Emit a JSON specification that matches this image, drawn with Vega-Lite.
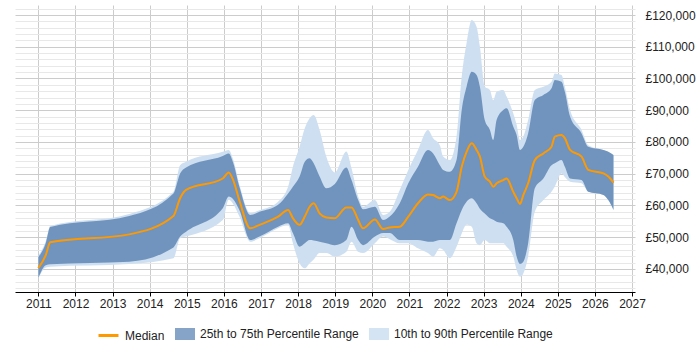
{
  "$schema": "https://vega.github.io/schema/vega-lite/v6.json",
  "autosize": {"type": "none"},
  "width": 620,
  "height": 287,
  "padding": {"left": 15, "top": 5, "right": 65, "bottom": 58},
  "background": "white",
  "data": {"values": [
    {"t": 2011.0, "p10": 37000, "p25": 37200, "med": 40300, "p75": 43800, "p90": 44200},
    {"t": 2011.2, "p10": 40500, "p25": 41200, "med": 44400, "p75": 48200, "p90": 48800},
    {"t": 2011.32, "p10": 40700, "p25": 41500, "med": 48400, "p75": 53200, "p90": 53500},
    {"t": 2013.45, "p10": 41600, "p25": 42300, "med": 50900, "p75": 56700, "p90": 57300},
    {"t": 2014.64, "p10": 43400, "p25": 46800, "med": 56700, "p75": 63800, "p90": 64300},
    {"t": 2014.82, "p10": 49700, "p25": 50200, "med": 62300, "p75": 70100, "p90": 72700},
    {"t": 2014.98, "p10": 50200, "p25": 51700, "med": 64900, "p75": 72000, "p90": 73800},
    {"t": 2015.97, "p10": 55400, "p25": 59100, "med": 68500, "p75": 75600, "p90": 76900},
    {"t": 2016.13, "p10": 61900, "p25": 62800, "med": 70400, "p75": 76400, "p90": 77500},
    {"t": 2016.25, "p10": 60500, "p25": 62000, "med": 68000, "p75": 73500, "p90": 74500},
    {"t": 2016.42, "p10": 56500, "p25": 58500, "med": 61500, "p75": 65800, "p90": 66500},
    {"t": 2016.71, "p10": 48600, "p25": 49100, "med": 52800, "p75": 57000, "p90": 57600},
    {"t": 2016.96, "p10": 49700, "p25": 50200, "med": 53900, "p75": 58000, "p90": 58500},
    {"t": 2017.46, "p10": 52800, "p25": 53300, "med": 56500, "p75": 60200, "p90": 61200},
    {"t": 2017.73, "p10": 53900, "p25": 54400, "med": 58600, "p75": 63800, "p90": 65900},
    {"t": 2017.86, "p10": 48100, "p25": 51300, "med": 56000, "p75": 65900, "p90": 72200},
    {"t": 2018.04, "p10": 41800, "p25": 47000, "med": 53900, "p75": 69100, "p90": 78500},
    {"t": 2018.18, "p10": 40200, "p25": 48100, "med": 56500, "p75": 73800, "p90": 84300},
    {"t": 2018.31, "p10": 41800, "p25": 49100, "med": 59600, "p75": 74900, "p90": 87500},
    {"t": 2018.42, "p10": 43000, "p25": 49000, "med": 60700, "p75": 73300, "p90": 88500},
    {"t": 2018.58, "p10": 45000, "p25": 48600, "med": 57500, "p75": 69100, "p90": 83800},
    {"t": 2018.76, "p10": 45000, "p25": 48100, "med": 56200, "p75": 65400, "p90": 75400},
    {"t": 2018.99, "p10": 43900, "p25": 47500, "med": 56000, "p75": 66800, "p90": 70400},
    {"t": 2019.3, "p10": 45400, "p25": 49100, "med": 59400, "p75": 72000, "p90": 77000},
    {"t": 2019.44, "p10": 48600, "p25": 53300, "med": 59400, "p75": 68000, "p90": 71700},
    {"t": 2019.62, "p10": 45400, "p25": 49100, "med": 55400, "p75": 61700, "p90": 62800},
    {"t": 2019.75, "p10": 45000, "p25": 47500, "med": 52800, "p75": 58800, "p90": 59600},
    {"t": 2020.07, "p10": 48100, "p25": 50200, "med": 55600, "p75": 59600, "p90": 61700},
    {"t": 2020.29, "p10": 50200, "p25": 51300, "med": 52600, "p75": 55400, "p90": 57000},
    {"t": 2020.47, "p10": 49400, "p25": 51300, "med": 53100, "p75": 56500, "p90": 58000},
    {"t": 2020.74, "p10": 48100, "p25": 49100, "med": 53300, "p75": 60700, "p90": 64900},
    {"t": 2020.97, "p10": 48100, "p25": 49100, "med": 56500, "p75": 67000, "p90": 71200},
    {"t": 2021.23, "p10": 46500, "p25": 49100, "med": 60700, "p75": 72200, "p90": 77500},
    {"t": 2021.5, "p10": 45000, "p25": 48600, "med": 63500, "p75": 77500, "p90": 83800},
    {"t": 2021.64, "p10": 43900, "p25": 48600, "med": 63300, "p75": 76400, "p90": 81200},
    {"t": 2021.82, "p10": 46500, "p25": 49100, "med": 62300, "p75": 72700, "p90": 79000},
    {"t": 2021.91, "p10": 46000, "p25": 49100, "med": 62800, "p75": 71200, "p90": 75400},
    {"t": 2022.09, "p10": 43400, "p25": 49100, "med": 61700, "p75": 70600, "p90": 74300},
    {"t": 2022.27, "p10": 47000, "p25": 54400, "med": 64300, "p75": 74300, "p90": 81700},
    {"t": 2022.41, "p10": 51200, "p25": 58600, "med": 72200, "p75": 90100, "p90": 100600},
    {"t": 2022.54, "p10": 53900, "p25": 61200, "med": 76900, "p75": 97400, "p90": 111100},
    {"t": 2022.68, "p10": 53300, "p25": 62300, "med": 79600, "p75": 102100, "p90": 118400},
    {"t": 2022.81, "p10": 48100, "p25": 60700, "med": 77500, "p75": 101100, "p90": 116300},
    {"t": 2022.9, "p10": 47500, "p25": 59000, "med": 75400, "p75": 97400, "p90": 110000},
    {"t": 2023.03, "p10": 49100, "p25": 57500, "med": 69100, "p75": 86900, "p90": 97400},
    {"t": 2023.17, "p10": 48100, "p25": 56000, "med": 67500, "p75": 83800, "p90": 96400},
    {"t": 2023.26, "p10": 48100, "p25": 55500, "med": 65900, "p75": 80600, "p90": 93200},
    {"t": 2023.35, "p10": 48100, "p25": 54900, "med": 67000, "p75": 86900, "p90": 95800},
    {"t": 2023.53, "p10": 48100, "p25": 54400, "med": 68000, "p75": 90100, "p90": 96400},
    {"t": 2023.62, "p10": 47000, "p25": 53300, "med": 68500, "p75": 90600, "p90": 94300},
    {"t": 2023.8, "p10": 43900, "p25": 49100, "med": 64300, "p75": 84800, "p90": 89000},
    {"t": 2023.89, "p10": 39700, "p25": 43900, "med": 62300, "p75": 82200, "p90": 85400},
    {"t": 2023.98, "p10": 37600, "p25": 41600, "med": 60500, "p75": 77500, "p90": 80600},
    {"t": 2024.07, "p10": 38600, "p25": 42300, "med": 63300, "p75": 78500, "p90": 81700},
    {"t": 2024.2, "p10": 43900, "p25": 48100, "med": 67000, "p75": 82700, "p90": 86900},
    {"t": 2024.38, "p10": 58000, "p25": 65400, "med": 74300, "p75": 93200, "p90": 96400},
    {"t": 2024.61, "p10": 61700, "p25": 68500, "med": 76400, "p75": 94800, "p90": 97400},
    {"t": 2024.83, "p10": 64300, "p25": 72700, "med": 78500, "p75": 96900, "p90": 99000},
    {"t": 2024.92, "p10": 66000, "p25": 73300, "med": 81700, "p75": 99500, "p90": 101600},
    {"t": 2025.1, "p10": 70100, "p25": 74300, "med": 82200, "p75": 99000, "p90": 101100},
    {"t": 2025.19, "p10": 69000, "p25": 72200, "med": 81200, "p75": 95800, "p90": 97400},
    {"t": 2025.33, "p10": 67500, "p25": 68500, "med": 77500, "p75": 88000, "p90": 90100},
    {"t": 2025.64, "p10": 67000, "p25": 68000, "med": 75400, "p75": 82700, "p90": 83800},
    {"t": 2025.82, "p10": 64300, "p25": 64300, "med": 71200, "p75": 78500, "p90": 79000},
    {"t": 2026.23, "p10": 63300, "p25": 63300, "med": 70100, "p75": 77500, "p90": 77500},
    {"t": 2026.36, "p10": 61700, "p25": 61700, "med": 69100, "p75": 76900, "p90": 76900},
    {"t": 2026.5, "p10": 58600, "p25": 58600, "med": 67200, "p75": 75900, "p90": 75900}
  ]},
  "encoding": {
    "x": {
      "field": "t", "type": "quantitative",
      "scale": {"domain": [2010.37, 2027.08], "nice": false, "zero": false},
      "axis": {
        "title": null,
        "values": [2011, 2012, 2013, 2014, 2015, 2016, 2017, 2018, 2019, 2020, 2021, 2022, 2023, 2024, 2025, 2026, 2027],
        "format": "d",
        "grid": true, "gridColor": "#cccccc",
        "domainColor": "#000000", "tickColor": "#000000", "tickSize": 4,
        "labelPadding": 2, "labelFontSize": 12, "labelFont": "Liberation Sans", "labelColor": "#222222"
      }
    }
  },
  "layer": [
    {
      "mark": {"type": "line", "interpolate": "monotone", "strokeWidth": 2},
      "encoding": {
        "y": {
          "field": "med", "type": "quantitative",
          "scale": {"domain": [32750, 123150], "nice": false, "zero": false},
          "axis": {
            "title": null, "orient": "right",
            "values": [34000, 36000, 38000, 40000, 42000, 44000, 46000, 48000, 50000, 52000, 54000, 56000, 58000, 60000, 62000, 64000, 66000, 68000, 70000, 72000, 74000, 76000, 78000, 80000, 82000, 84000, 86000, 88000, 90000, 92000, 94000, 96000, 98000, 100000, 102000, 104000, 106000, 108000, 110000, 112000, 114000, 116000, 118000, 120000, 122000],
            "labelExpr": "datum.value % 10000 === 0 ? '£' + format(datum.value, ',') : ''",
            "labelOverlap": false,
            "gridColor": {"condition": {"test": "datum.value % 10000 === 0", "value": "#cccccc"}, "value": "#e8e8e8"},
            "domain": false, "ticks": false, "labelPadding": 10,
            "labelFontSize": 12, "labelFont": "Liberation Sans", "labelColor": "#222222"
          }
        },
        "color": {
          "datum": "Median", "type": "nominal",
          "scale": {"domain": ["Median"], "range": ["#ff9900"]},
          "legend": {
            "title": null, "orient": "bottom", "direction": "horizontal",
            "symbolType": "stroke", "symbolSize": 400, "symbolStrokeWidth": 3,
            "labelOffset": 5, "offset": 15,
            "labelFontSize": 12, "labelFont": "Liberation Sans", "labelColor": "#222222"
          }
        }
      }
    },
    {
      "mark": {"type": "area", "interpolate": "monotone", "opacity": 1},
      "encoding": {
        "y": {
          "field": "p90", "type": "quantitative",
          "axis": {
            "title": null, "orient": "right",
            "values": [34000, 36000, 38000, 40000, 42000, 44000, 46000, 48000, 50000, 52000, 54000, 56000, 58000, 60000, 62000, 64000, 66000, 68000, 70000, 72000, 74000, 76000, 78000, 80000, 82000, 84000, 86000, 88000, 90000, 92000, 94000, 96000, 98000, 100000, 102000, 104000, 106000, 108000, 110000, 112000, 114000, 116000, 118000, 120000, 122000],
            "labelExpr": "datum.value % 10000 === 0 ? '£' + format(datum.value, ',') : ''",
            "labelOverlap": false,
            "gridColor": {"condition": {"test": "datum.value % 10000 === 0", "value": "#cccccc"}, "value": "#e8e8e8"},
            "domain": false, "ticks": false, "labelPadding": 10,
            "labelFontSize": 12, "labelFont": "Liberation Sans", "labelColor": "#222222"
          }
        },
        "y2": {"field": "p10"},
        "fill": {
          "datum": "10th to 90th Percentile Range", "type": "nominal",
          "scale": {"domain": ["25th to 75th Percentile Range", "10th to 90th Percentile Range"], "range": ["#7094bd", "#cddff0"]},
          "legend": {
            "title": null, "orient": "bottom", "direction": "horizontal",
            "symbolType": "M-1,-0.6H1V0.6H-1Z", "symbolSize": 400, "symbolOpacity": 0.85, "symbolStrokeWidth": 0,
            "labelOffset": 5, "columnPadding": 10, "offset": 15,
            "labelFontSize": 12, "labelFont": "Liberation Sans", "labelColor": "#222222"
          }
        }
      }
    },
    {
      "mark": {"type": "area", "interpolate": "monotone", "opacity": 1},
      "encoding": {
        "y": {
          "field": "p75", "type": "quantitative",
          "axis": {
            "title": null, "orient": "right",
            "values": [34000, 36000, 38000, 40000, 42000, 44000, 46000, 48000, 50000, 52000, 54000, 56000, 58000, 60000, 62000, 64000, 66000, 68000, 70000, 72000, 74000, 76000, 78000, 80000, 82000, 84000, 86000, 88000, 90000, 92000, 94000, 96000, 98000, 100000, 102000, 104000, 106000, 108000, 110000, 112000, 114000, 116000, 118000, 120000, 122000],
            "labelExpr": "datum.value % 10000 === 0 ? '£' + format(datum.value, ',') : ''",
            "labelOverlap": false,
            "gridColor": {"condition": {"test": "datum.value % 10000 === 0", "value": "#cccccc"}, "value": "#e8e8e8"},
            "domain": false, "ticks": false, "labelPadding": 10,
            "labelFontSize": 12, "labelFont": "Liberation Sans", "labelColor": "#222222"
          }
        },
        "y2": {"field": "p25"},
        "fill": {"datum": "25th to 75th Percentile Range", "type": "nominal", "legend": null}
      }
    },
    {
      "mark": {"type": "line", "interpolate": "monotone", "strokeWidth": 2},
      "encoding": {
        "y": {
          "field": "med", "type": "quantitative",
          "axis": {
            "title": null, "orient": "right",
            "values": [34000, 36000, 38000, 40000, 42000, 44000, 46000, 48000, 50000, 52000, 54000, 56000, 58000, 60000, 62000, 64000, 66000, 68000, 70000, 72000, 74000, 76000, 78000, 80000, 82000, 84000, 86000, 88000, 90000, 92000, 94000, 96000, 98000, 100000, 102000, 104000, 106000, 108000, 110000, 112000, 114000, 116000, 118000, 120000, 122000],
            "labelExpr": "datum.value % 10000 === 0 ? '£' + format(datum.value, ',') : ''",
            "labelOverlap": false,
            "gridColor": {"condition": {"test": "datum.value % 10000 === 0", "value": "#cccccc"}, "value": "#e8e8e8"},
            "domain": false, "ticks": false, "labelPadding": 10,
            "labelFontSize": 12, "labelFont": "Liberation Sans", "labelColor": "#222222"
          }
        },
        "color": {"datum": "Median", "type": "nominal", "legend": null}
      }
    }
  ],
  "config": {
    "view": {"stroke": null},
    "font": "Liberation Sans",
    "legend": {"layout": {"bottom": {"anchor": "middle", "direction": "horizontal", "margin": 10}}}
  }
}
